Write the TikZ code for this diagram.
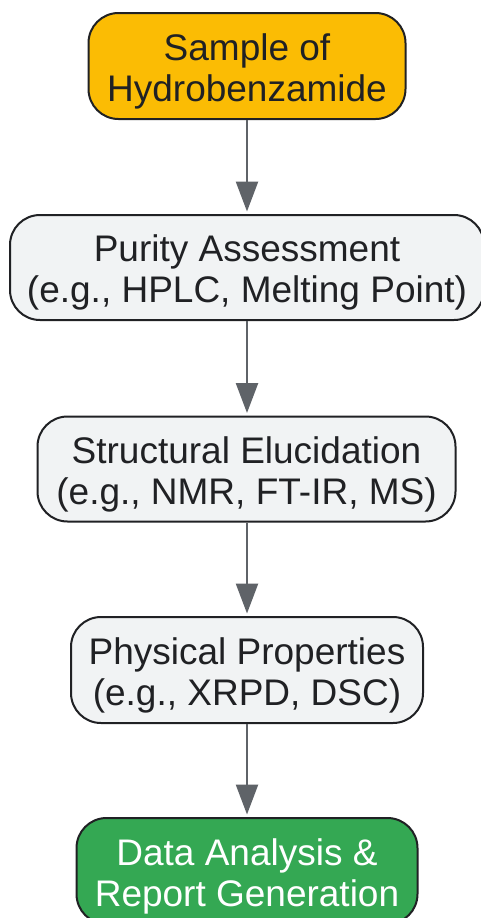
\documentclass[tikz,border=0pt]{standalone}
\usepackage{fontspec}
\setmainfont{Liberation Sans}
\usetikzlibrary{arrows.meta}
\definecolor{gyellow}{HTML}{FBBC04}
\definecolor{ggreen}{HTML}{34A853}
\definecolor{ggray}{HTML}{F1F3F4}
\definecolor{gdark}{HTML}{202124}
\definecolor{garrow}{HTML}{5F6368}
\newcommand{\topstrut}{\rule{0pt}{37.6pt}}
\newcommand{\botstrut}{\rule[-8pt]{0pt}{0pt}}
\begin{document}
\begin{tikzpicture}[x=1pt,y=-1pt,
  box/.style={draw=gdark, line width=2pt, rounded corners=30pt, align=center,
    inner sep=0pt, text=gdark, font=\fontsize{37}{41}\selectfont},
  startbox/.style={box, fill=gyellow},
  midbox/.style={box, fill=ggray},
  endbox/.style={box, fill=ggreen, text=white},
  flow/.style={draw=garrow, line width=2.5pt, shorten >=2.5pt,
    -{Triangle[width=22pt,length=30pt]}}]
\useasboundingbox (0,0) rectangle (481,918);
\fill[white] (0,0) rectangle (481,918);
\node[startbox, minimum width=317pt, minimum height=106pt] (n1) at (247,66)
  {\topstrut Sample of\\Hydrobenzamide\botstrut};
\node[midbox, minimum width=474pt, minimum height=105pt] (n2) at (247,267.5)
  {\topstrut Purity Assessment\\(e.g., HPLC, Melting Point)\botstrut};
\node[midbox, minimum width=418pt, minimum height=105pt] (n3) at (246.5,469)
  {\topstrut Structural Elucidation\\(e.g., NMR, FT-IR, MS)\botstrut};
\node[midbox, minimum width=352pt, minimum height=106pt] (n4) at (247,670)
  {\topstrut Physical Properties\\(e.g., XRPD, DSC)\botstrut};
\node[endbox, minimum width=341pt, minimum height=106pt] (n5) at (247,871)
  {\topstrut Data Analysis \&\\Report Generation\botstrut};
\draw[flow] (n1.south) -- (n2.north);
\draw[flow] (n2.south) -- (n3.north -| n2.south);
\draw[flow] (n3.south -| n2.south) -- (n4.north);
\draw[flow] (n4.south) -- (n5.north);
\end{tikzpicture}
\end{document}
